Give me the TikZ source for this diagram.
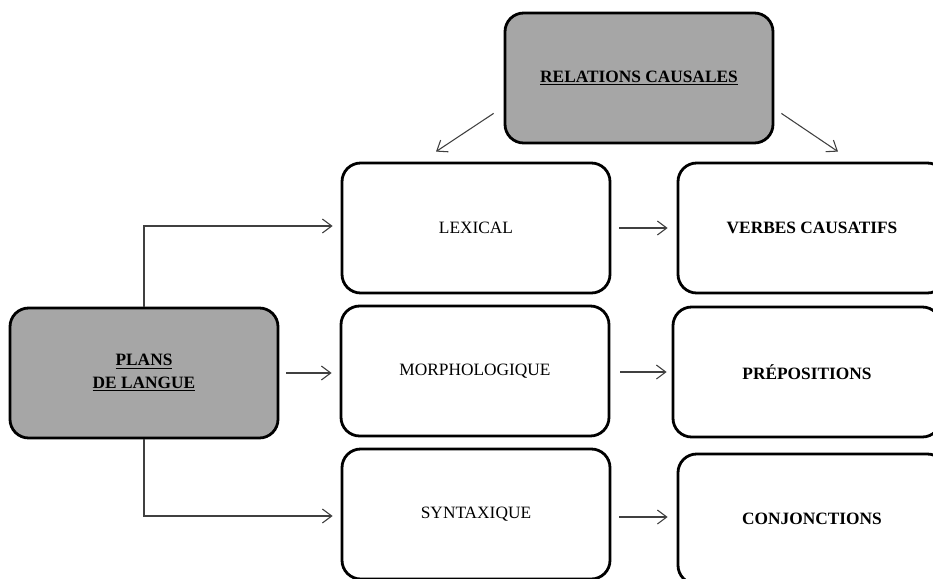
\documentclass[tikz,border=0pt]{standalone}
\usepackage{fontspec}
\setmainfont{Liberation Serif}
\usetikzlibrary{arrows.meta,calc}

\definecolor{boxgray}{HTML}{A6A6A6}
\definecolor{arrowgray}{HTML}{404040}

\tikzset{every picture/.append style={x=0.75pt, y=-0.75pt}}
\tikzset{
  box/.style={draw, line width=2.1pt, rounded corners=14pt, minimum width=201pt,
    minimum height=97.5pt, font=\fontsize{13}{17}\selectfont, align=center},
  headbox/.style={box, fill=boxgray, font=\fontsize{13}{17}\selectfont\bfseries},
  resbox/.style={box, font=\fontsize{13}{17}\selectfont\bfseries},
  arr/.style={draw=arrowgray, line width=0.8pt, -{Straight Barb[length=7pt,width=10.5pt]}}
}

\begin{document}
\begin{tikzpicture}
  \clip (0,0) rectangle (933,579);
  \node[headbox] (cause) at(639,78){\underline{RELATIONS CAUSALES}};
  \node[headbox] (plans) at(144,373){\underline{PLANS}\\\underline{DE LANGUE}};
  \node[box] (lex) at(476,228){LEXICAL};
  \node[box] (morph) at(475,371){MORPHOLOGIQUE};
  \node[box] (synt) at(476,514){SYNTAXIQUE};
  \node[resbox] (verbes) at(812,228){VERBES CAUSATIFS};
  \node[resbox] (prep) at(807,372){PRÉPOSITIONS};
  \node[resbox] (conj) at(812,519){CONJONCTIONS};

  \draw[arr] ($(cause.south west)+(-10,-31)$) -- ($(lex.north)+(-40,-10)$);
  \draw[arr] ($(cause.south east)+(7,-31)$) -- ($(verbes.north)+(26,-10)$);
  \draw[arr] (plans.north) |- ($(lex.west)+(-8,-2)$);
  \draw[arr] ($(plans.east)+(7,0)$) -- ($(morph.west)+(-8,2)$);
  \draw[arr] (plans.south) |- ($(synt.west)+(-8,2)$);
  \draw[arr] ($(lex.east)+(8,0)$) -- ($(verbes.west)+(-9,0)$);
  \draw[arr] ($(morph.east)+(10,1)$) -- ($(prep.west)+(-5,0)$);
  \draw[arr] ($(synt.east)+(8,3)$) -- ($(conj.west)+(-9,-2)$);
\end{tikzpicture}
\end{document}
